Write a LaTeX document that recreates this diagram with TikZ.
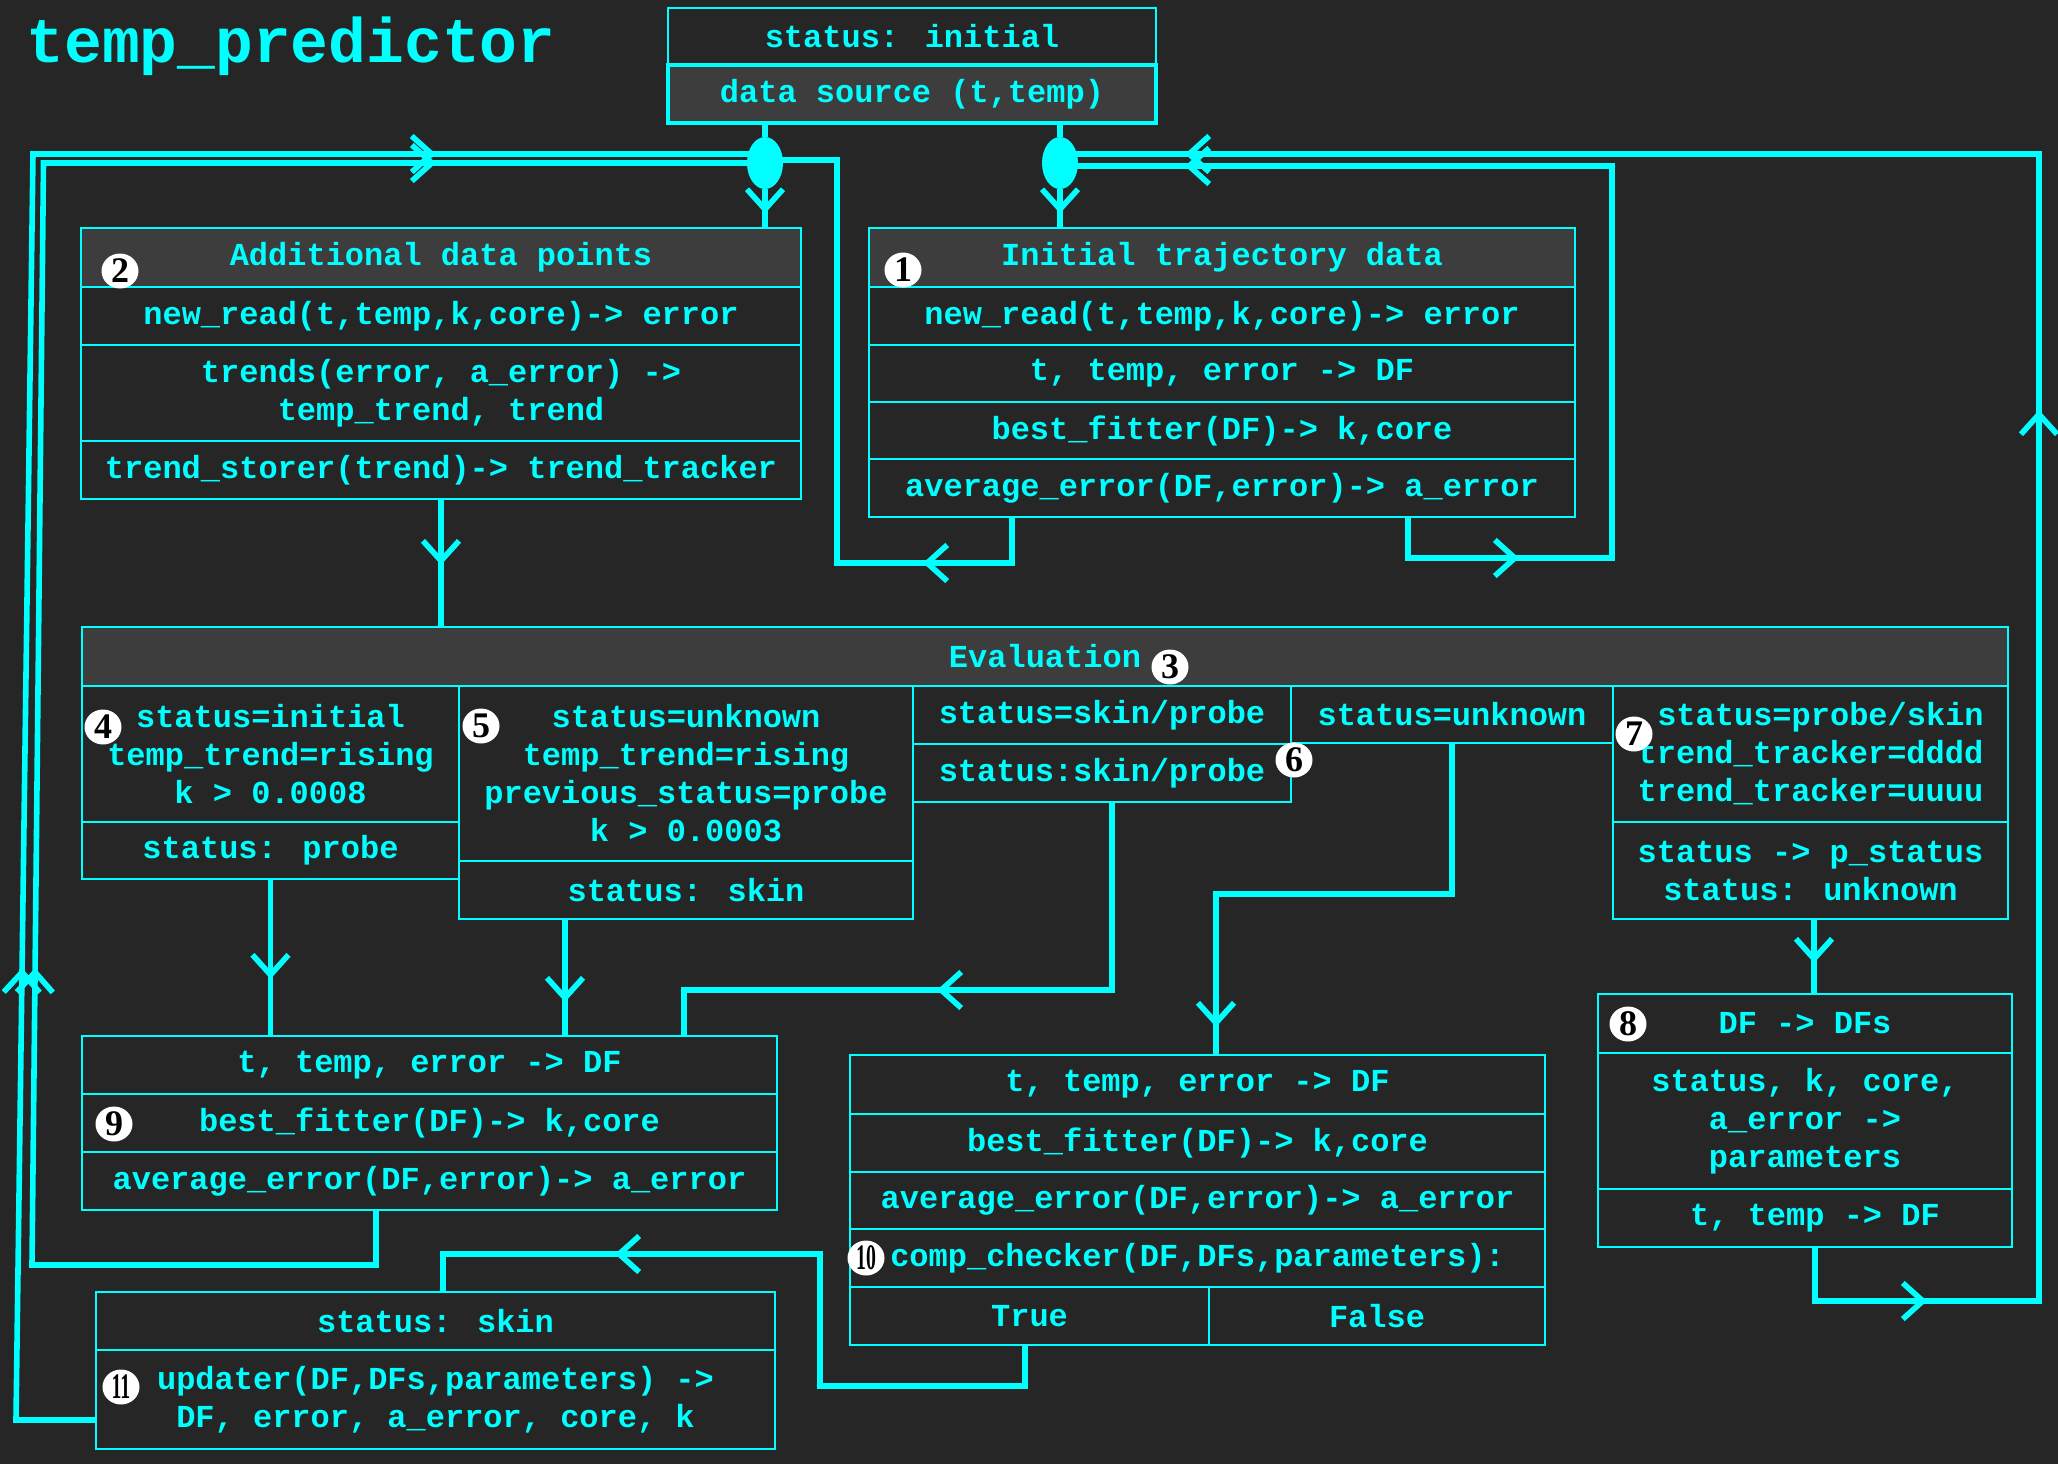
\documentclass[tikz,border=0pt]{standalone}
\usepackage{fontspec}
\usepackage{graphicx}
\setmainfont{Liberation Mono}
\newfontfamily\badgefont{Liberation Serif}
\usetikzlibrary{arrows.meta,decorations.markings,shapes.geometric,calc}
\definecolor{bgc}{HTML}{262626}
\definecolor{hdc}{HTML}{3D3D3D}
\definecolor{cy}{HTML}{00FFFF}
\begin{document}
\begin{tikzpicture}[x=0.5pt,y=-0.5pt,
  cell/.style={draw=cy,line width=0.7pt,fill=bgc,text=cy,inner sep=0pt,outer sep=0pt,
    anchor=north west,align=center,font=\fontsize{16}{19}\selectfont\bfseries},
  hcell/.style={cell,fill=hdc,line width=1.4pt},
  conn/.style={draw=cy,line width=2.8pt,line join=miter},
  tipat/.style={postaction={decorate,decoration={markings,
    mark=at position #1 with {\arrow{Straight Barb[length=10pt,width=18pt]}}}}},
  badge/.style={ellipse,fill=white,text=black,inner sep=0pt,minimum width=18.5pt,minimum height=17.5pt,
    font=\badgefont\fontsize{18}{18}\selectfont\bfseries},
  blob/.style={ellipse,fill=cy,inner sep=0pt,minimum width=18pt,minimum height=26pt},
]
\fill[bgc] (0,0) rectangle (2058,1464);
\useasboundingbox (0,0) rectangle (2058,1464);

% title
\node[anchor=base west,text=cy,inner sep=0pt,font=\fontsize{31.5}{32}\selectfont\bfseries] (title) at (26,62) {temp\_predictor};

% top box
\node[cell,line width=0.9pt,minimum width=244pt,minimum height=28.5pt] (top1) at (668,8) {status: initial};
\node[hcell,line width=1.6pt,minimum width=244pt,minimum height=29pt] (top2) at (668,65) {data source (t,temp)};

% box 2
\node[hcell,minimum width=360pt,minimum height=29.5pt] (b2h) at (81,228) {Additional data points};
\node[cell,minimum width=360pt,minimum height=29pt] (b2a) at (81,287) {new\_read(t,temp,k,core)-> error};
\node[cell,minimum width=360pt,minimum height=48pt] (b2b) at (81,345) {trends(error, a\_error) ->\\temp\_trend, trend};
\node[cell,minimum width=360pt,minimum height=29pt] (b2c) at (81,441) {trend\_storer(trend)-> trend\_tracker};

% box 1
\node[hcell,minimum width=353pt,minimum height=29.5pt] (b1h) at (869,228) {Initial trajectory data};
\node[cell,minimum width=353pt,minimum height=29pt] (b1a) at (869,287) {new\_read(t,temp,k,core)-> error};
\node[cell,minimum width=353pt,minimum height=28.5pt] (b1b) at (869,345) {t, temp, error -> DF};
\node[cell,minimum width=353pt,minimum height=28.5pt] (b1c) at (869,402) {best\_fitter(DF)-> k,core};
\node[cell,minimum width=353pt,minimum height=29pt] (b1d) at (869,459) {average\_error(DF,error)-> a\_error};

% evaluation
\node[hcell,minimum width=963pt,minimum height=29.5pt] (eval) at (82,627) {Evaluation};
\node[cell,minimum width=188.5pt,minimum height=68pt] (b4a) at (82,686) {status=initial\\temp\_trend=rising\\k > 0.0008};
\node[cell,minimum width=188.5pt,minimum height=28.5pt] (b4b) at (82,822) {status: probe};
\node[cell,minimum width=227pt,minimum height=87.5pt] (b5a) at (459,686) {status=unknown\\temp\_trend=rising\\previous\_status=probe\\k > 0.0003};
\node[cell,minimum width=227pt,minimum height=29pt] (b5b) at (459,861) {status: skin};
\node[cell,minimum width=189pt,minimum height=29pt] (b6a) at (913,686) {status=skin/probe};
\node[cell,minimum width=189pt,minimum height=29pt] (b6b) at (913,744) {status:skin/probe};
\node[cell,minimum width=161pt,minimum height=28.5pt] (unk) at (1291,686) {status=unknown};
\node[cell,minimum width=197.5pt,minimum height=68pt] (b7a) at (1613,686) {\hspace*{10pt}status=probe/skin\\trend\_tracker=dddd\\trend\_tracker=uuuu};
\node[cell,minimum width=197.5pt,minimum height=48.5pt] (b7b) at (1613,822) {status -> p\_status\\status: unknown};

% box 9
\node[cell,minimum width=347.5pt,minimum height=29pt] (b9a) at (82,1036) {t, temp, error -> DF};
\node[cell,minimum width=347.5pt,minimum height=29pt] (b9b) at (82,1094) {best\_fitter(DF)-> k,core};
\node[cell,minimum width=347.5pt,minimum height=29pt] (b9c) at (82,1152) {average\_error(DF,error)-> a\_error};

% box 10
\node[cell,minimum width=347.5pt,minimum height=29.5pt] (b10a) at (850,1055) {t, temp, error -> DF};
\node[cell,minimum width=347.5pt,minimum height=29pt] (b10b) at (850,1114) {best\_fitter(DF)-> k,core};
\node[cell,minimum width=347.5pt,minimum height=28.5pt] (b10c) at (850,1172) {average\_error(DF,error)-> a\_error};
\node[cell,minimum width=347.5pt,minimum height=29pt] (b10d) at (850,1229) {comp\_checker(DF,DFs,parameters):};
\node[cell,minimum width=179.5pt,minimum height=29pt] (b10t) at (850,1287) {True};
\node[cell,minimum width=168pt,minimum height=29pt] (b10f) at (1209,1287) {False};

% box 8
\node[cell,minimum width=207pt,minimum height=29.5pt] (b8a) at (1598,994) {DF -> DFs};
\node[cell,minimum width=207pt,minimum height=68pt] (b8b) at (1598,1053) {status, k, core,\\a\_error ->\\parameters};
\node[cell,minimum width=207pt,minimum height=29pt] (b8c) at (1598,1189) {\hspace*{10pt}t, temp -> DF};

% box 11
\node[cell,minimum width=339.5pt,minimum height=29pt] (b11a) at (96,1292) {status: skin};
\node[cell,minimum width=339.5pt,minimum height=49.5pt] (b11b) at (96,1350) {updater(DF,DFs,parameters) ->\\DF, error, a\_error, core, k};

% junction blobs
\node[blob] (elL) at (765,163) {};
\node[blob] (elR) at (1060,163) {};

% helper coordinates
\coordinate (k5) at (565,0);
\coordinate (k6) at (1112,0);
\coordinate (k6b) at (684,0);
\coordinate (k7) at (1452,0);
\coordinate (k7b) at (1216,0);
\coordinate (k8) at (1814,0);
\coordinate (k9) at (1815,0);
\coordinate (k10) at (1408,0);
\coordinate (k11) at (1012,0);
\coordinate (k12) at (376,0);
\coordinate (k14) at (1025,0);
\coordinate (k14b) at (443,0);
\coordinate (y154) at (0,154);
\coordinate (y160) at (0,160);
\coordinate (y163) at (0,163);
\coordinate (y166) at (0,166);
\coordinate (y1420) at (0,1420);

% connectors
\draw[conn] (top2.south -| elL) -- (elL.north);
\draw[conn,tipat=12pt] (elL.south) -- (elL.south |- b2h.north);
\draw[conn] (top2.south -| elR) -- (elR.north);
\draw[conn,tipat=12pt] (elR.south) -- (elR.south |- b1h.north);

\draw[conn,tipat=33pt] (b2c.south) -- (b2c.south |- eval.north);
\draw[conn,tipat=50pt] (b4b.south) -- (b4b.south |- b9a.north);
\draw[conn,tipat=41.5pt] (b5b.south -| k5) -- (b9a.north -| k5);
\draw[conn,tipat=181.5pt] (b6b.south -| k6) -- (1112,990) -- (684,990) -- (b9a.north -| k6b);
\draw[conn,tipat=260pt] (unk.south -| k7) -- (1452,894) -- (1216,894) -- (b10a.north -| k7b);
\draw[conn,tipat=22pt] (b7b.south -| k8) -- (b8a.north -| k8);

\draw[conn,tipat=83pt,tipat=584.5pt,tipat=1139.5pt] (b8c.south -| k9) -- (1815,1301) -- (2039,1301) -- (2039,154) -- (elR |- y154);
\draw[conn,tipat=76pt,tipat=532pt] (b1d.south -| k10) -- (1408,558) -- (1612,558) -- (1612,166) -- (elR |- y166);
\draw[conn,tipat=67.5pt] (b1d.south -| k11) -- (1012,563) -- (837,563) -- (837,160) -- (elL |- y160);
\draw[conn,tipat=348pt,tipat=946.8pt] (b9c.south -| k12) -- (376,1265) -- (32,1265) -- (43.5,163) -- (elL |- y163);
\draw[conn,tipat=266pt,tipat=874.5pt] (b11b.west |- y1420) -- (16,1420) -- (33,154) -- (elL |- y154);
\draw[conn,tipat=291.5pt] (b10t.south -| k14) -- (1025,1386) -- (820,1386) -- (820,1254) -- (443,1254) -- (b11a.north -| k14b);

% badges
\node[badge] (n1) at (903,270) {1};
\node[badge] (n2) at (120,271) {2};
\node[badge] (n3) at (1170,667) {3};
\node[badge] (n4) at (103,727) {4};
\node[badge] (n5) at (481,726) {5};
\node[badge] (n6) at (1294,760) {6};
\node[badge] (n7) at (1634,734) {7};
\node[badge] (n8) at (1628,1024) {8};
\node[badge] (n9) at (114,1124) {9};
\node[badge] (n10) at (866,1258) {\scalebox{0.55}[1]{10}};
\node[badge] (n11) at (121,1387) {\scalebox{0.55}[1]{11}};
\end{tikzpicture}
\end{document}
